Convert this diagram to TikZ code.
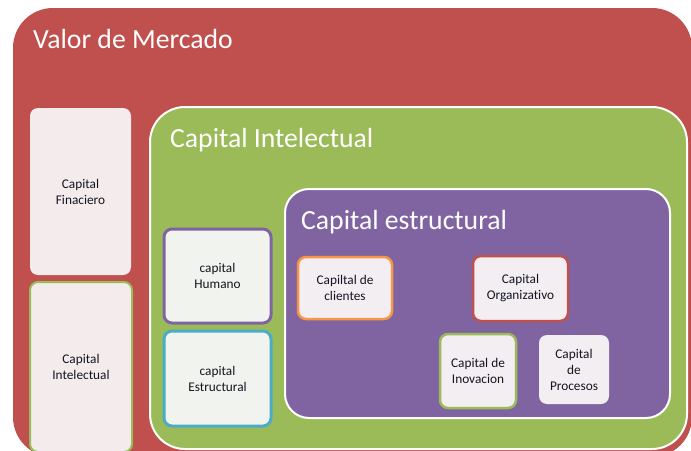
\documentclass[tikz,border=0pt]{standalone}
\usepackage{fontspec}
\setmainfont{Carlito}[Ligatures=NoCommon]
\definecolor{cred}{HTML}{C0504D}
\definecolor{cgreen}{HTML}{9BBB59}
\definecolor{cpurple}{HTML}{8064A2}
\definecolor{ccyan}{HTML}{4BACC6}
\definecolor{corange}{HTML}{F79646}
\definecolor{fpink}{HTML}{F4ECEC}
\definecolor{fgreenish}{HTML}{F1F4EE}
\definecolor{flav}{HTML}{F3EEF2}
\definecolor{ctext}{HTML}{141420}
\tikzset{
  region/.style={draw=white, line width=2pt, inner sep=0pt, outer sep=0pt},
  title/.style={anchor=base west, inner sep=0pt, text=white, font=\fontsize{27.7}{32}\selectfont},
  item/.style={rounded corners=8pt, inner sep=0pt, outer sep=0pt, align=center,
    text=ctext, font=\fontsize{13.3}{16}\selectfont, line width=2.5pt},
}
\begin{document}
\begin{tikzpicture}[x=1pt,y=-1pt]
\useasboundingbox (0,0) rectangle (691,450);
\clip (0,0) rectangle (691,450);
\fill[white] (0,0) rectangle (691,450);
% regions
\node[inner sep=0pt, fill=cred, rounded corners=40pt, minimum width=679pt, minimum height=449pt] (mercado) at (352.5,232.5) {};
\node[region, fill=cgreen, rounded corners=35pt, minimum width=537pt, minimum height=342pt] (intelectual) at (418.5,278) {};
\node[region, fill=cpurple, rounded corners=24pt, minimum width=385pt, minimum height=229pt] (estructural) at (477.5,303.5) {};
% titles
\node[title] (tmercado) at (33,48) {Valor de Mercado};
\node[title] (tintelectual) at (170,147) {Capital Intelectual};
\node[title] (testructural) at (301,229) {Capital estructural};
% items
\node[item, fill=fpink, minimum width=101pt, minimum height=167pt] (finaciero) at (80.5,191.5) {Capital\\Finaciero};
\node[item, fill=fpink, draw=cgreen, line width=2pt, minimum width=102pt, minimum height=170pt] (ci) at (81,367) {Capital\\Intelectual};
\node[item, fill=fgreenish, draw=cpurple, line width=3pt, minimum width=107pt, minimum height=94pt] (humano) at (217.5,276) {capital\\Humano};
\node[item, fill=fgreenish, draw=ccyan, line width=3pt, minimum width=107pt, minimum height=95pt] (cestr) at (217.5,378.5) {capital\\Estructural};
\node[item, fill=flav, draw=corange, minimum width=94pt, minimum height=62pt] (clientes) at (345,288) {Capiltal de\\clientes};
\node[item, fill=flav, draw=cred, minimum width=95pt, minimum height=65pt] (organizativo) at (520.5,288.5) {Capital\\Organizativo};
\node[item, fill=flav, draw=cgreen, minimum width=76pt, minimum height=74pt] (inovacion) at (478,371) {Capital de\\Inovacion};
\node[item, fill=flav, minimum width=70pt, minimum height=69pt] (procesos) at (574,369.5) {Capital\\de\\Procesos};
\end{tikzpicture}
\end{document}
